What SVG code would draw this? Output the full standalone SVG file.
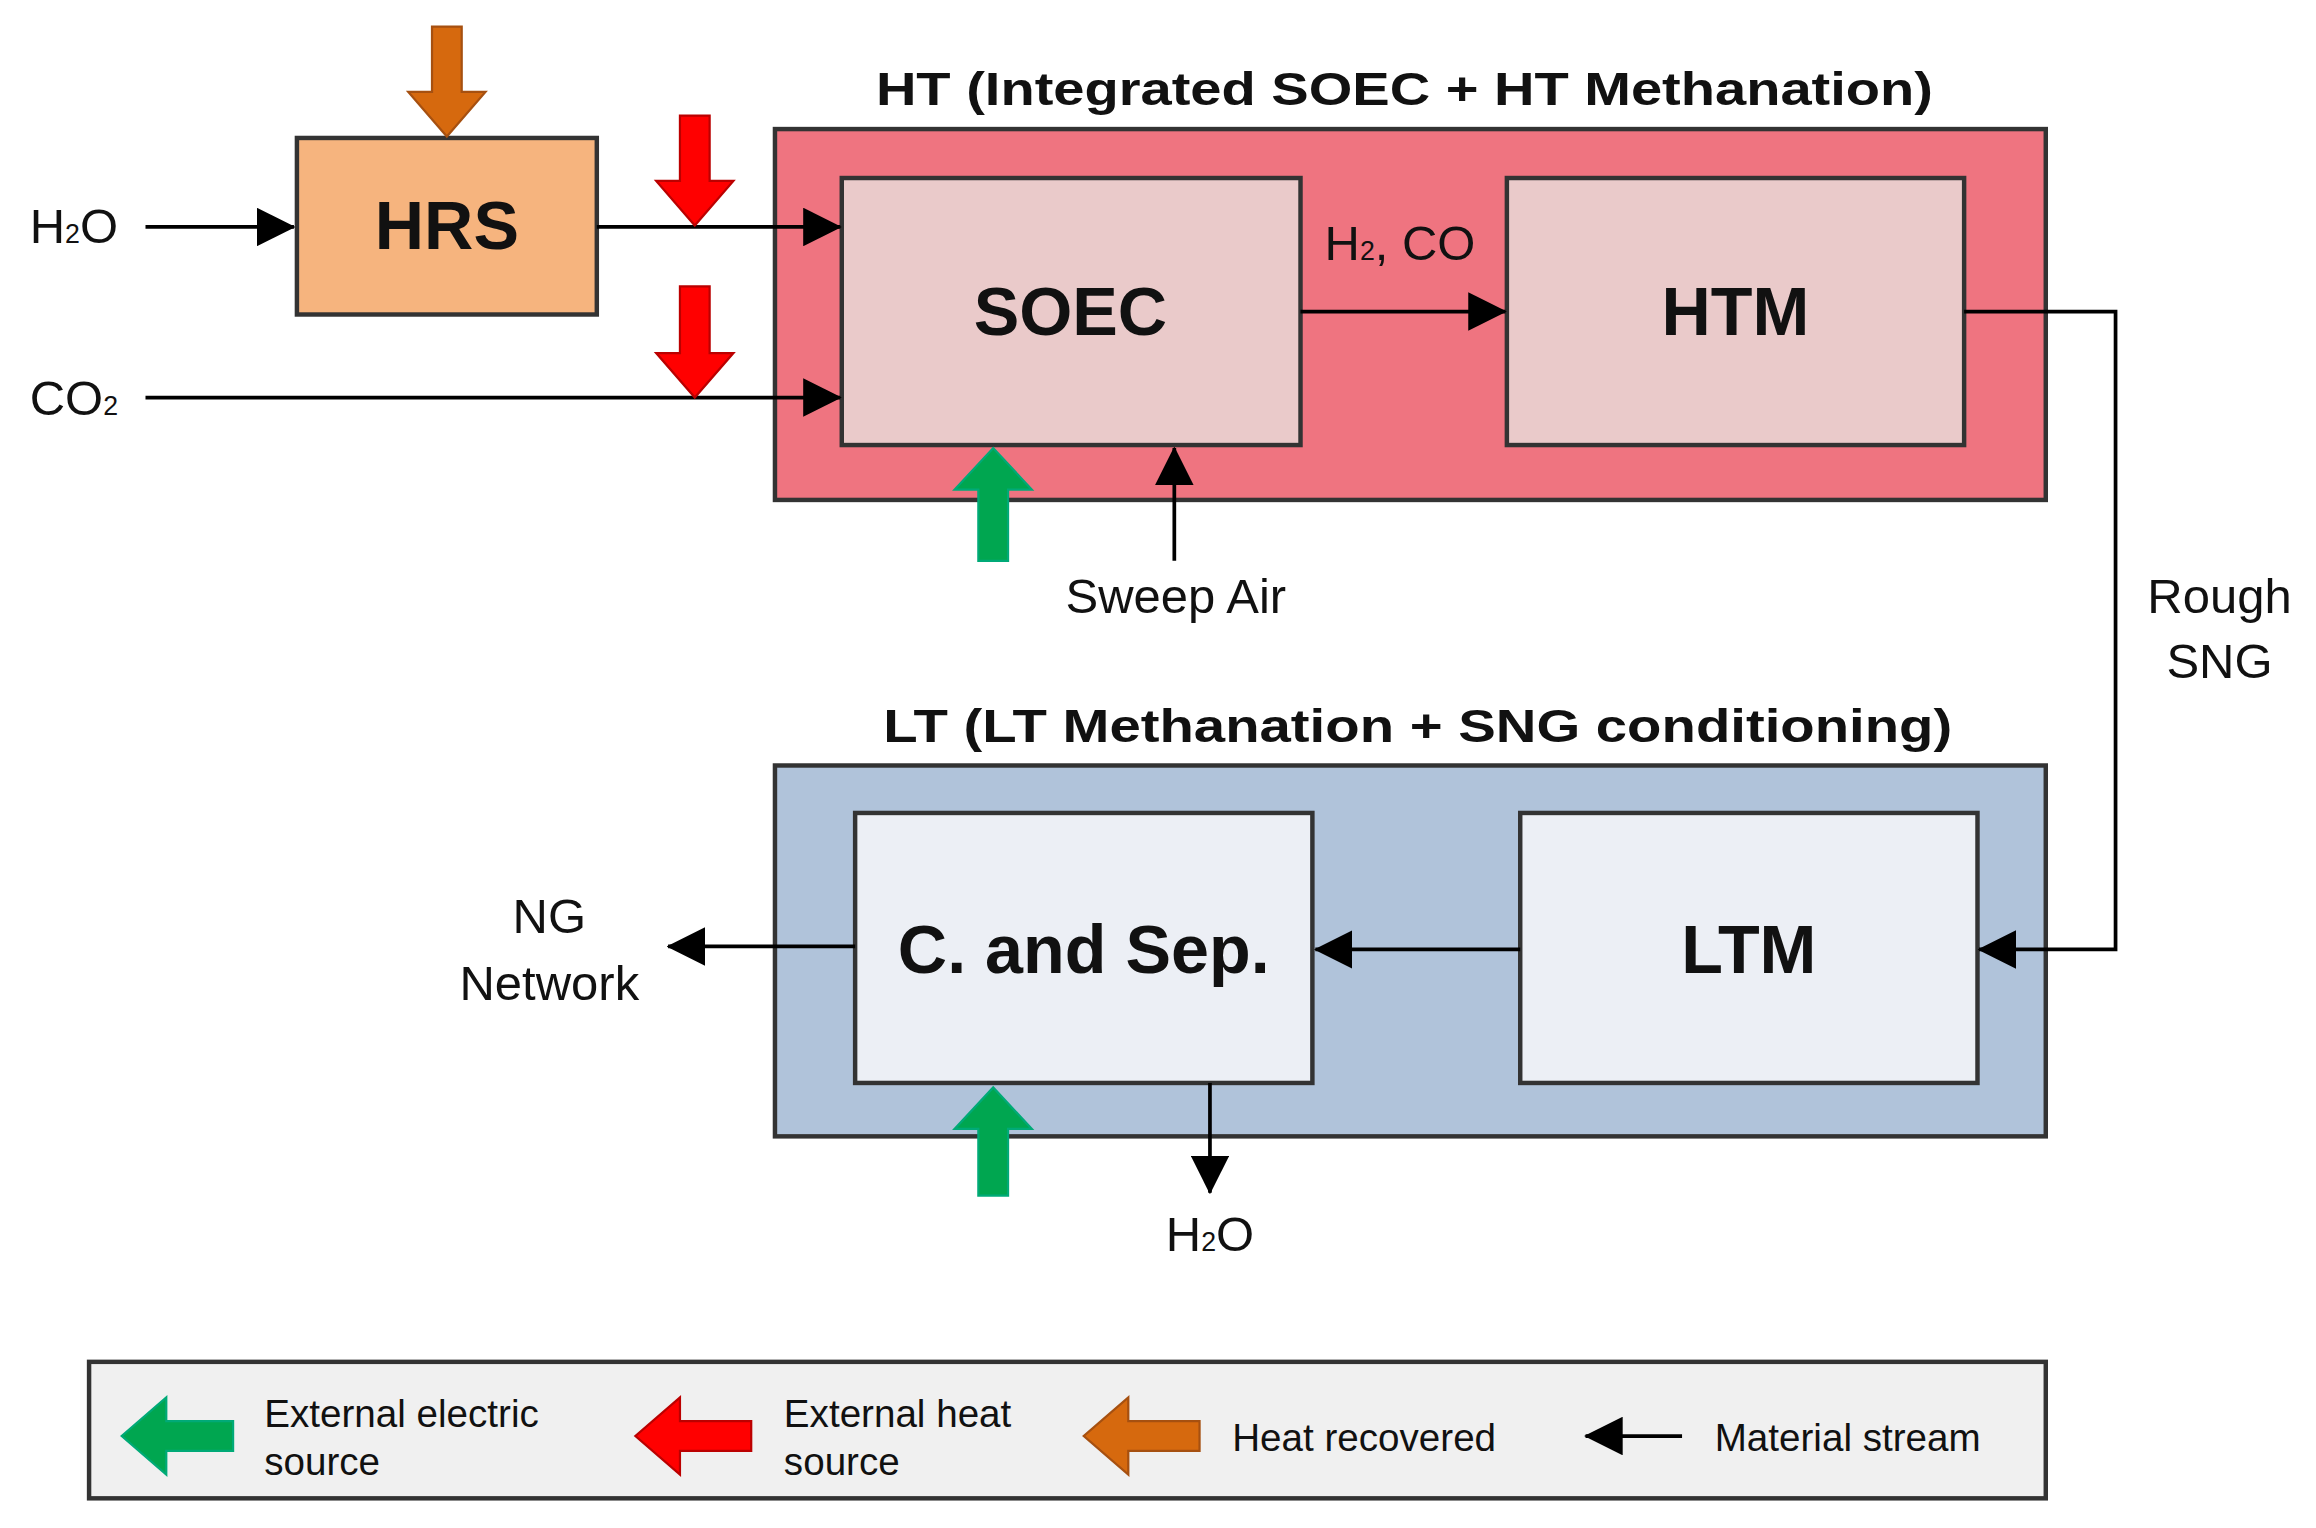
<svg xmlns="http://www.w3.org/2000/svg" width="2316" height="1528" viewBox="0 0 2316 1528">
<style>
text{font-family:"Liberation Sans",Arial,sans-serif;fill:#111}
.t{font-size:33px}
.b{font-weight:bold}
.n{font-size:46px;font-weight:bold;text-anchor:middle}
.lg{font-size:26px}
.box{stroke:#333;stroke-width:3}
.ln{fill:none;stroke:#000;stroke-width:2.5}
</style>
<defs>
<marker id="ah" markerWidth="10" markerHeight="10" refX="9" refY="5" orient="auto" markerUnits="userSpaceOnUse" viewBox="0 0 10 10"><path d="M0,0 L10,5 L0,10 z" fill="#000"/></marker>
<marker id="a" markerWidth="26" markerHeight="26" refX="25" refY="13" orient="auto" markerUnits="userSpaceOnUse" viewBox="0 0 26 26"><path d="M0,0 L26,13 L0,26 z" fill="#000"/></marker>
</defs>
<g transform="scale(1.4846,1.4835)">
<g id="HT"><rect class="box" x="522" y="87" width="856" height="250" fill="#EF7480"/>
<text class="b" x="946" y="71" font-size="31" text-anchor="middle" textLength="712" lengthAdjust="spacingAndGlyphs">HT (Integrated SOEC + HT Methanation)</text></g>
<g id="LT"><rect class="box" x="522" y="516" width="856" height="250" fill="#B0C3DA"/>
<text class="b" x="955" y="500" font-size="31" text-anchor="middle" textLength="720" lengthAdjust="spacingAndGlyphs">LT (LT Methanation + SNG conditioning)</text></g>
<g id="HRS"><rect class="box" x="200" y="93" width="202" height="119" fill="#F6B47E"/><text class="n" x="301" y="168">HRS</text></g>
<g id="SOEC"><rect class="box" x="567" y="120" width="309" height="180" fill="#EACACA"/><text class="n" x="721" y="226">SOEC</text></g>
<g id="HTM"><rect class="box" x="1015" y="120" width="308" height="180" fill="#EACACA"/><text class="n" x="1169" y="226">HTM</text></g>
<g id="CSep"><rect class="box" x="576" y="548" width="308" height="182" fill="#ECEFF5"/><text class="n" x="730" y="656">C. and Sep.</text></g>
<g id="LTM"><rect class="box" x="1024" y="548" width="308" height="182" fill="#ECEFF5"/><text class="n" x="1178" y="656">LTM</text></g>
<g id="connectors">
<path class="ln" d="M98,153 H198" marker-end="url(#a)"/>
<path class="ln" d="M402,153 H566" marker-end="url(#a)"/>
<path class="ln" d="M98,268 H566" marker-end="url(#a)"/>
<path class="ln" d="M876,210 H1014" marker-end="url(#a)"/>
<path class="ln" d="M791,378 V302" marker-end="url(#a)"/>
<path class="ln" d="M1323,210 H1425 V640 H1333" marker-end="url(#a)"/>
<path class="ln" d="M1024,640 H886" marker-end="url(#a)"/>
<path class="ln" d="M576,638 H450" marker-end="url(#a)"/>
<path class="ln" d="M815,730 V804" marker-end="url(#a)"/>
</g>
<g id="energy" stroke-width="1.5">
<path d="M291,18 H311 V62 H327 L301,92 L275,62 H291 Z" fill="#D6690E" stroke="#A65010"/>
<path d="M458,78 H478 V122 H494 L468,152 L442,122 H458 Z" fill="#FF0000" stroke="#B00"/>
<path d="M458,193 H478 V238 H494 L468,268 L442,238 H458 Z" fill="#FF0000" stroke="#B00"/>
<path d="M659,378 H679 V330 H695 L669,302 L643,330 H659 Z" fill="#00A650" stroke="#0A7"/>
<path d="M659,806 H679 V761 H695 L669,733 L643,761 H659 Z" fill="#00A650" stroke="#0A7"/>
</g>
<g id="labels">
<text class="t" x="20" y="164">H<tspan font-size="18">2</tspan>O</text>
<text class="t" x="20" y="280">CO<tspan font-size="18">2</tspan></text>
<text class="t" x="943" y="175" text-anchor="middle">H<tspan font-size="18">2</tspan>, CO</text>
<text class="t" x="792" y="413" text-anchor="middle">Sweep Air</text>
<text class="t" x="1495" y="413" text-anchor="middle">Rough</text>
<text class="t" x="1495" y="457" text-anchor="middle">SNG</text>
<text class="t" x="370" y="629" text-anchor="middle">NG</text>
<text class="t" x="370" y="674" text-anchor="middle">Network</text>
<text class="t" x="815" y="843" text-anchor="middle">H<tspan font-size="18">2</tspan>O</text>
</g>
<g id="legend">
<rect x="60" y="918" width="1318" height="92" fill="#F0F0F0" stroke="#333" stroke-width="3"/>
<path d="M157,958 H112 V942 L82,968 L112,994 V978 H157 Z" fill="#00A650" stroke="#0A7" stroke-width="1.5"/>
<text class="lg" x="178" y="962">External electric</text><text class="lg" x="178" y="994">source</text>
<path d="M506,958 H458 V942 L428,968 L458,994 V978 H506 Z" fill="#FF0000" stroke="#B00" stroke-width="1.5"/>
<text class="lg" x="528" y="962">External heat</text><text class="lg" x="528" y="994">source</text>
<path d="M808,958 H760 V942 L730,968 L760,994 V978 H808 Z" fill="#D6690E" stroke="#A65010" stroke-width="1.5"/>
<text class="lg" x="830" y="978">Heat recovered</text>
<path class="ln" d="M1133,968 H1068" marker-end="url(#a)"/>
<text class="lg" x="1155" y="978">Material stream</text>
</g>
</g>
</svg>
